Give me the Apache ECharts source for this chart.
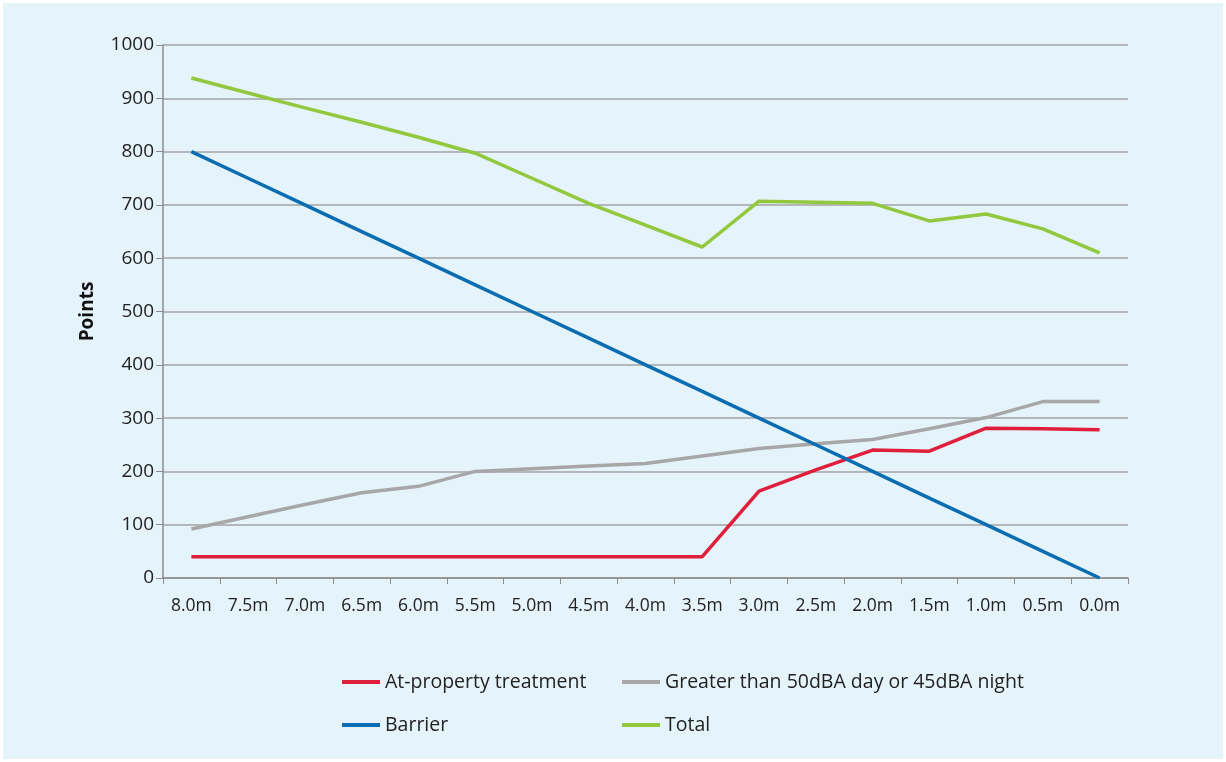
<!DOCTYPE html>
<html>
<head>
<meta charset="utf-8">
<title>Points by barrier height</title>
<script src="https://cdn.jsdelivr.net/npm/echarts@6/dist/echarts.min.js"></script>
<style>
  html, body { margin: 0; padding: 0; background: #ffffff; }
  #chart { position: absolute; left: 3px; top: 3px; width: 1220px; height: 756px; }
</style>
</head>
<body>
<div id="chart"></div>
<script>
// barrier height categories
const heights = ['8.0m', '7.5m', '7.0m', '6.5m', '6.0m', '5.5m', '5.0m', '4.5m', '4.0m',
  '3.5m', '3.0m', '2.5m', '2.0m', '1.5m', '1.0m', '0.5m', '0.0m'];

const atProperty = [40, 40, 40, 40, 40, 40, 40, 40, 40, 40, 163, 203, 240, 238, 281, 280, 278];
const greaterThan = [92, 115, 138, 160, 172, 200, 205, 210, 215, 229, 243, 252, 260, 280, 301, 331, 331];
const barrier = [800, 750, 700, 650, 600, 550, 500, 450, 400, 350, 300, 250, 200, 150, 100, 50, 0];
const total = [938, 910, 882, 855, 827, 797, 750, 703, 662, 621, 707, 705, 703, 670, 683, 655, 610];

const yTicks = [0, 100, 200, 300, 400, 500, 600, 700, 800, 900, 1000];

const chart = echarts.init(document.getElementById('chart'), null, { renderer: 'canvas' });

const font = "'Open Sans', 'Noto Sans', sans-serif";
const legendText = { fontFamily: font, fontSize: 19.5, color: '#222' };

function legendAt(name, left, top) {
  return {
    data: [name],
    left: left,
    top: top,
    icon: 'rect',
    itemWidth: 38,
    itemHeight: 4,
    selectedMode: false,
    textStyle: legendText
  };
}

const option = {
  backgroundColor: '#e5f3fa',
  animation: false,
  grid: { left: 160, right: 95, top: 42, bottom: 181 },
  legend: [
    legendAt('At-property treatment', 334, 664),
    legendAt('Greater than 50dBA day or 45dBA night', 614, 664),
    legendAt('Barrier', 334, 707),
    legendAt('Total', 614, 707)
  ],
  xAxis: {
    type: 'category',
    data: heights,
    boundaryGap: true,
    axisLine: { lineStyle: { color: '#8c8c8c', width: 1.5 } },
    axisTick: { show: true, length: 6, alignWithLabel: false, lineStyle: { color: '#8c8c8c' } },
    axisLabel: { margin: 19, fontFamily: font, fontSize: 17.5, color: '#222' }
  },
  yAxis: {
    type: 'value',
    min: yTicks[0],
    max: yTicks[yTicks.length - 1],
    interval: 100,
    name: 'Points',
    nameLocation: 'middle',
    nameRotate: 90,
    nameGap: 66,
    nameTextStyle: { fontFamily: font, fontSize: 19, fontWeight: 'bold', color: '#111' },
    axisLine: { show: true, lineStyle: { color: '#8c8c8c', width: 1.5 } },
    axisTick: { show: true, length: 7, lineStyle: { color: '#8c8c8c' } },
    axisLabel: { margin: 9, fontFamily: font, fontSize: 19, color: '#222', formatter: v => String(v) },
    splitLine: { lineStyle: { color: '#a3a3a3', width: 1.5 } }
  },
  series: [
    { name: 'At-property treatment', type: 'line', data: atProperty, color: '#e01f3d' },
    { name: 'Greater than 50dBA day or 45dBA night', type: 'line', data: greaterThan, color: '#a7a7a9' },
    { name: 'Barrier', type: 'line', data: barrier, color: '#0a6db1' },
    { name: 'Total', type: 'line', data: total, color: '#92c83e' }
  ].map(s => Object.assign(s, {
    showSymbol: false,
    symbol: 'none',
    lineStyle: { width: 3.5, color: s.color },
    itemStyle: { color: s.color }
  }))
};

chart.setOption(option);
</script>
</body>
</html>
